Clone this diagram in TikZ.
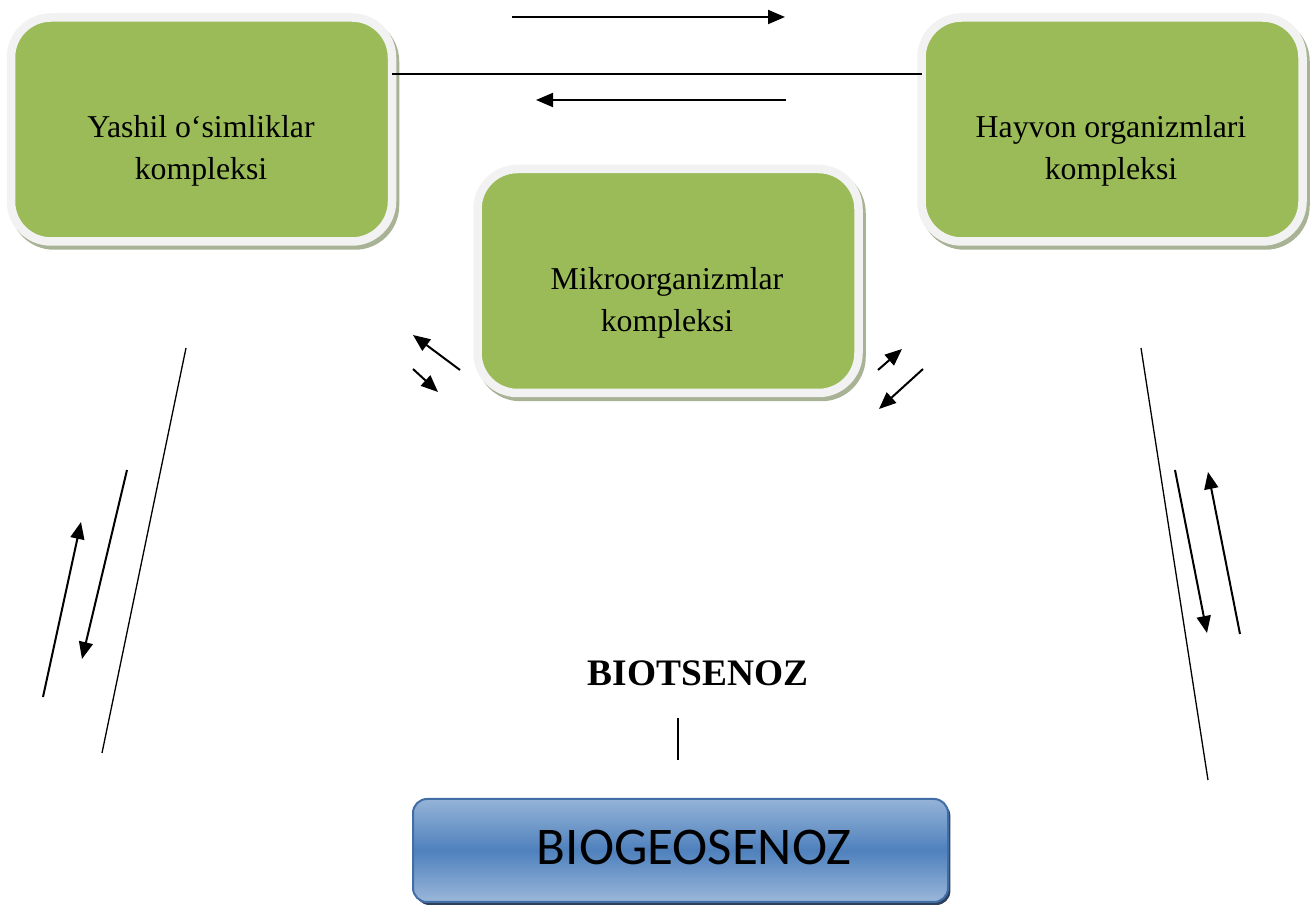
\documentclass[tikz,border=0pt]{standalone}
\usepackage{fontspec}
\setmainfont{Liberation Serif}
\newfontfamily\calibri{Carlito}
\usetikzlibrary{arrows.meta}

\definecolor{boxgreen}{RGB}{155,187,89}
\definecolor{ringgray}{RGB}{242,242,242}
\definecolor{shadowgreen}{RGB}{168,178,148}
\definecolor{bluetop}{RGB}{149,179,215}
\definecolor{bluemid}{RGB}{79,129,189}
\definecolor{blueedge}{RGB}{65,110,165}
\definecolor{blueshadow}{RGB}{45,65,95}

\begin{document}
\begin{tikzpicture}[x=0.5pt,y=-0.5pt, % one unit = one pixel of the drawing
	> = {Triangle[length=8.5pt,width=7pt]}, % arrow head style
	arr/.style={->,line width=1pt},
	plain/.style={line width=0.65pt},
	cplx/.style={rectangle,rounded corners=20pt,minimum width=190.5pt,minimum height=112pt,
		fill=boxgreen,draw=ringgray,line width=4.25pt,outer sep=0pt,
		preaction={fill=shadowgreen,draw=shadowgreen,line width=4.25pt,
			transform canvas={shift={(1.5pt,-2pt)}}}},
	cplxtext/.style={align=center,inner sep=0pt,font=\fontsize{15.9}{21}\selectfont},
	biobox/.style={rectangle,rounded corners=7pt,minimum width=267.5pt,minimum height=51.5pt,
		top color=bluetop,bottom color=bluetop!95!white,middle color=bluemid,
		draw=blueedge,line width=1pt,
		preaction={fill=blueshadow,transform canvas={shift={(1.2pt,-1.5pt)}}}}]

	\useasboundingbox (0,0) rectangle (1314,908);

	% complexes
	\node[cplx] (plants) at (201.5,129.5) {};
	\node[cplx] (animals) at (1112,129.5) {};
	\node[cplx] (microbes) at (668,281) {};
	\node[cplxtext] (plantsText) at (201,151) {Yashil o‘simliklar\\kompleksi};
	\node[cplxtext] (animalsText) at (1111,151) {Hayvon organizmlari\\kompleksi};
	\node[cplxtext] (microbesText) at (667,303) {Mikroorganizmlar\\kompleksi};

	\node[inner sep=0pt,font=\fontsize{18.7}{22}\selectfont\bfseries] (biots) at (698,673) {BIOTSENOZ};

	\node[biobox] (biog) at (680.5,850.5) {};
	\node[inner sep=0pt,font=\calibri\fontsize{26.5}{30}\selectfont] (biogText) at (694,847.5) {BIOGEOSENOZ};

	% free ends of the connectors
	\coordinate (ya) at (0,74);
	\coordinate (t1) at (512,17);   \coordinate (t2) at (785,17);
	\coordinate (b1) at (786,100);  \coordinate (b2) at (536,100);
	\coordinate (l1) at (186,348);  \coordinate (l2) at (102,753);
	\coordinate (la1) at (43,697);  \coordinate (la2) at (81,522);
	\coordinate (lb1) at (127,470); \coordinate (lb2) at (82,659);
	\coordinate (r1) at (1141,348); \coordinate (r2) at (1208,780);
	\coordinate (ra1) at (1175,470); \coordinate (ra2) at (1207,633);
	\coordinate (rb1) at (1240,634); \coordinate (rb2) at (1208,472);
	\coordinate (ma1) at (460,370); \coordinate (ma2) at (413,335);
	\coordinate (mb1) at (413,369); \coordinate (mb2) at (438,392);
	\coordinate (mc1) at (878,370); \coordinate (mc2) at (902,349);
	\coordinate (md1) at (923,369); \coordinate (md2) at (879,409);
	\coordinate (v1) at (678,718);  \coordinate (v2) at (678,760);

	\draw[plain] (plants.east |- ya)--(animals.west |- ya);
	\draw[arr] (t1)--(t2);
	\draw[arr] (b1)--(b2);

	\draw[plain] (l1)--(l2);
	\draw[arr] (la1)--(la2);
	\draw[arr] (lb1)--(lb2);

	\draw[plain] (r1)--(r2);
	\draw[arr] (ra1)--(ra2);
	\draw[arr] (rb1)--(rb2);

	\draw[arr] (ma1)--(ma2);
	\draw[arr] (mb1)--(mb2);
	\draw[arr] (mc1)--(mc2);
	\draw[arr] (md1)--(md2);

	\draw[plain] (v1)--(v2);

\end{tikzpicture}
\end{document}
